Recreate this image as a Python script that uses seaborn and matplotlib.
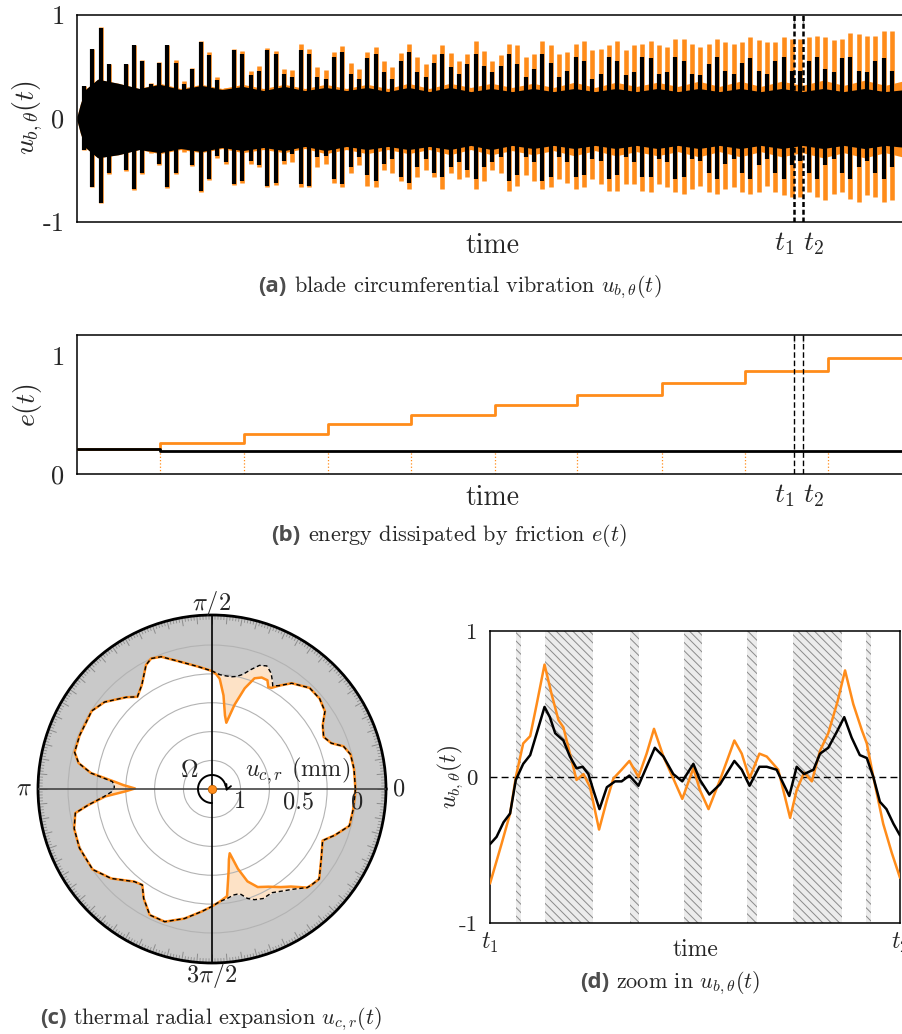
import numpy as np
import pandas as pd
import matplotlib
matplotlib.use("Agg")
import matplotlib.pyplot as plt
import seaborn as sns

# ------------------------------------------------------------------ data
# (a) blade circumferential vibration, envelope of every vibration burst
spike_start, spike_step = 0.0084, 0.01005
black_top = [0.31, 0.67, 0.87, 0.53, 0.31, 0.53, 0.71, 0.56, 0.33, 0.54,
             0.71, 0.54, 0.33, 0.48, 0.74, 0.61, 0.37, 0.25, 0.66, 0.62,
             0.42, 0.46, 0.66, 0.62, 0.43, 0.40, 0.66, 0.62, 0.40, 0.38,
             0.59, 0.64, 0.43, 0.38, 0.58, 0.62, 0.45, 0.38, 0.56, 0.64,
             0.45, 0.40, 0.54, 0.62, 0.50, 0.43, 0.53, 0.62, 0.51, 0.45,
             0.51, 0.62, 0.53, 0.40, 0.48, 0.62, 0.54, 0.40, 0.46, 0.59,
             0.56, 0.38, 0.43, 0.59, 0.56, 0.42, 0.45, 0.59, 0.58, 0.43,
             0.45, 0.59, 0.56, 0.43, 0.42, 0.53, 0.59, 0.46, 0.43, 0.54,
             0.58, 0.46, 0.43, 0.56, 0.59, 0.46, 0.46, 0.56, 0.59, 0.48,
             0.45, 0.58, 0.59, 0.46, 0.45, 0.56, 0.58, 0.46]
orange_top = [0.31, 0.67, 0.88, 0.53, 0.31, 0.53, 0.71, 0.57, 0.34, 0.55,
              0.71, 0.57, 0.36, 0.49, 0.75, 0.64, 0.40, 0.29, 0.67, 0.65,
              0.46, 0.51, 0.68, 0.65, 0.48, 0.47, 0.72, 0.67, 0.50, 0.47,
              0.64, 0.70, 0.54, 0.48, 0.64, 0.69, 0.56, 0.50, 0.63, 0.72,
              0.59, 0.53, 0.62, 0.71, 0.63, 0.56, 0.62, 0.75, 0.65, 0.56,
              0.61, 0.72, 0.71, 0.59, 0.62, 0.75, 0.71, 0.62, 0.64, 0.72,
              0.75, 0.66, 0.67, 0.71, 0.75, 0.66, 0.71, 0.72, 0.75, 0.71,
              0.69, 0.77, 0.77, 0.72, 0.69, 0.72, 0.77, 0.74, 0.72, 0.74,
              0.79, 0.76, 0.74, 0.74, 0.79, 0.77, 0.77, 0.79, 0.80, 0.79,
              0.76, 0.77, 0.83, 0.82, 0.80, 0.80, 0.85, 0.85]
black_bottom = [-0.30, -0.66, -0.82, -0.53, -0.28, -0.50, -0.68, -0.53, -0.31, -0.44,
                -0.66, -0.53, -0.29, -0.45, -0.70, -0.58, -0.36, -0.42, -0.63, -0.60,
                -0.41, -0.45, -0.65, -0.62, -0.41, -0.34, -0.63, -0.65, -0.37, -0.36,
                -0.58, -0.63, -0.47, -0.37, -0.55, -0.60, -0.44, -0.39, -0.57, -0.62,
                -0.47, -0.39, -0.53, -0.57, -0.47, -0.42, -0.50, -0.58, -0.47, -0.42,
                -0.37, -0.60, -0.55, -0.37, -0.42, -0.60, -0.57, -0.37, -0.42, -0.57,
                -0.55, -0.39, -0.41, -0.58, -0.55, -0.37, -0.42, -0.57, -0.57, -0.39,
                -0.42, -0.58, -0.57, -0.39, -0.41, -0.53, -0.58, -0.44, -0.39, -0.53,
                -0.58, -0.45, -0.39, -0.53, -0.58, -0.45, -0.41, -0.53, -0.58, -0.45,
                -0.39, -0.53, -0.58, -0.47, -0.41, -0.53, -0.58, -0.47]
orange_bottom = [-0.30, -0.66, -0.82, -0.54, -0.28, -0.51, -0.69, -0.54, -0.33, -0.45,
                 -0.67, -0.54, -0.32, -0.46, -0.71, -0.59, -0.38, -0.44, -0.64, -0.62,
                 -0.44, -0.47, -0.66, -0.64, -0.44, -0.42, -0.66, -0.66, -0.47, -0.44,
                 -0.62, -0.66, -0.53, -0.45, -0.65, -0.66, -0.50, -0.53, -0.60, -0.68,
                 -0.57, -0.50, -0.57, -0.68, -0.53, -0.58, -0.57, -0.68, -0.60, -0.50,
                 -0.53, -0.70, -0.65, -0.55, -0.60, -0.68, -0.66, -0.58, -0.62, -0.68,
                 -0.66, -0.58, -0.63, -0.70, -0.70, -0.63, -0.63, -0.70, -0.71, -0.63,
                 -0.66, -0.71, -0.73, -0.68, -0.65, -0.71, -0.73, -0.68, -0.66, -0.71,
                 -0.73, -0.71, -0.65, -0.71, -0.74, -0.76, -0.76, -0.71, -0.76, -0.79,
                 -0.73, -0.71, -0.78, -0.81, -0.74, -0.76, -0.81, -0.79]
# dense core of the signal between bursts (beating envelope)
core_t = [0.0, 0.004, 0.01, 0.025, 0.05, 0.075, 0.1, 0.125, 0.15, 0.175, 0.2,
          0.225, 0.25, 0.275, 0.3, 0.325, 0.35, 0.375, 0.4, 0.425, 0.45, 0.475,
          0.5, 0.525, 0.55, 0.575, 0.6, 0.625, 0.65, 0.675, 0.7, 0.725, 0.75,
          0.775, 0.8, 0.825, 0.85, 0.875, 0.9, 0.925, 0.95, 0.975, 1.0]
core_black_hi = [0.02, 0.14, 0.28, 0.38, 0.34, 0.29, 0.33, 0.28, 0.32, 0.28, 0.31,
                 0.27, 0.31, 0.27, 0.30, 0.27, 0.30, 0.26, 0.30, 0.26, 0.30, 0.26,
                 0.29, 0.26, 0.29, 0.26, 0.29, 0.26, 0.29, 0.26, 0.29, 0.26, 0.29,
                 0.26, 0.29, 0.26, 0.29, 0.26, 0.29, 0.26, 0.29, 0.26, 0.28]
core_black_lo = [-0.02, -0.14, -0.28, -0.38, -0.35, -0.30, -0.33, -0.29, -0.32, -0.28, -0.31,
                 -0.28, -0.31, -0.27, -0.31, -0.27, -0.30, -0.27, -0.30, -0.27, -0.30, -0.26,
                 -0.30, -0.26, -0.29, -0.26, -0.29, -0.26, -0.29, -0.26, -0.29, -0.26, -0.29,
                 -0.26, -0.29, -0.26, -0.29, -0.26, -0.29, -0.26, -0.29, -0.26, -0.28]
core_orange_hi = [0.02, 0.14, 0.28, 0.38, 0.34, 0.29, 0.34, 0.29, 0.33, 0.29, 0.33,
                  0.29, 0.33, 0.29, 0.33, 0.29, 0.33, 0.29, 0.34, 0.29, 0.34, 0.30,
                  0.34, 0.30, 0.34, 0.30, 0.35, 0.30, 0.35, 0.31, 0.35, 0.31, 0.36,
                  0.31, 0.36, 0.31, 0.36, 0.32, 0.37, 0.32, 0.37, 0.32, 0.37]
core_orange_lo = [-0.02, -0.14, -0.28, -0.38, -0.35, -0.30, -0.34, -0.30, -0.33, -0.29, -0.33,
                  -0.30, -0.33, -0.29, -0.34, -0.30, -0.34, -0.30, -0.34, -0.30, -0.35, -0.30,
                  -0.35, -0.31, -0.35, -0.31, -0.36, -0.31, -0.36, -0.32, -0.36, -0.32, -0.37,
                  -0.32, -0.37, -0.32, -0.37, -0.33, -0.38, -0.33, -0.38, -0.33, -0.38]
t1, t2 = 0.865, 0.876

# (b) energy dissipated by friction (step values)
e_step_t = [0.0, 0.100, 0.202, 0.303, 0.403, 0.504, 0.603, 0.706, 0.806, 0.906]
e_orange = [0.21, 0.26, 0.34, 0.42, 0.50, 0.58, 0.67, 0.77, 0.87, 0.98]
e_black = [0.21, 0.19, 0.19, 0.19, 0.19, 0.19, 0.19, 0.19, 0.19, 0.19]

# (c) thermal radial expansion of the casing (angle in degrees, u in mm)
c_theta = [0, 8, 14, 18, 21, 25, 30, 34.5, 40, 46, 53, 57, 59.5, 61, 63, 66, 69, 72,
           75, 77.8, 80, 83, 86, 88, 90, 96.5, 105, 111, 115, 118, 124, 129, 133,
           141, 147, 158, 165, 169, 172.5, 175.7, 177.5, 179.6, 181.5, 184, 187.4,
           190, 196, 204, 214, 221.6, 230, 234, 238, 243.7, 250.4, 258, 265, 270,
           274, 278, 281.4, 283.5, 285.4, 288, 291, 295, 300, 305, 309, 314, 316,
           320, 327.6, 335, 339.4, 345, 351.5, 357.6, 360]
c_prev = [0.005, 0.005, 0.01, 0.05, 0.14, 0.18, 0.14, 0.06, 0.03, 0.03, 0.10, 0.18,
          0.21, 0.17, 0.12, 0.08, 0.10, 0.16, 0.22, 0.25, 0.26, 0.26, 0.255, 0.24,
          0.225, 0.18, 0.10, 0.02, 0.0, 0.03, 0.16, 0.22, 0.16, 0.05, 0.005, 0.01,
          0.015, 0.07, 0.19, 0.38, 0.40, 0.40, 0.38, 0.31, 0.165, 0.045, 0.005,
          -0.01, 0.0, 0.08, 0.20, 0.22, 0.13, 0.03, 0.027, 0.10, 0.18, 0.23, 0.27,
          0.29, 0.31, 0.31, 0.30, 0.25, 0.22, 0.20, 0.21, 0.17, 0.13, 0.06, 0.05,
          0.035, 0.126, 0.19, 0.11, 0.015, 0.012, 0.008, 0.005]
c_curr = [0.005, 0.005, 0.01, 0.05, 0.14, 0.18, 0.14, 0.06, 0.03, 0.03, 0.10, 0.18,
          0.23, 0.24, 0.19, 0.19, 0.22, 0.33, 0.49, 0.66, 0.60, 0.43, 0.29, 0.25,
          0.225, 0.18, 0.10, 0.02, 0.0, 0.03, 0.16, 0.22, 0.16, 0.05, 0.005, 0.01,
          0.015, 0.07, 0.19, 0.40, 0.48, 0.58, 0.50, 0.32, 0.165, 0.045, 0.005,
          -0.01, 0.0, 0.08, 0.20, 0.22, 0.13, 0.03, 0.027, 0.10, 0.18, 0.23, 0.27,
          0.31, 0.52, 0.62, 0.67, 0.52, 0.39, 0.31, 0.27, 0.21, 0.16, 0.06, 0.05,
          0.035, 0.126, 0.19, 0.11, 0.015, 0.012, 0.008, 0.005]
c_rings = [0, 0.25, 0.5, 0.75, 1]

# (d) zoom between t1 and t2 (time normalised to [0, 1])
d_t_orange = [0.000, 0.028, 0.049, 0.063, 0.081, 0.098, 0.114, 0.133, 0.150, 0.167,
              0.179, 0.195, 0.211, 0.228, 0.244, 0.266, 0.285, 0.301, 0.321, 0.340,
              0.362, 0.382, 0.400, 0.423, 0.447, 0.469, 0.496, 0.512, 0.533, 0.561,
              0.596, 0.614, 0.633, 0.657, 0.675, 0.703, 0.732, 0.748, 0.766, 0.785,
              0.805, 0.825, 0.847, 0.866, 0.886, 0.907, 0.919, 0.935, 0.959, 0.980, 1.0]
d_u_orange = [-0.73, -0.46, -0.25, 0.0, 0.23, 0.28, 0.50, 0.77, 0.57, 0.39,
              0.34, 0.16, -0.02, 0.02, -0.07, -0.36, -0.16, -0.01, 0.05, 0.11,
              0.0, 0.16, 0.33, 0.14, -0.01, -0.15, 0.06, -0.09, -0.22, -0.02,
              0.25, 0.16, -0.01, 0.16, 0.14, 0.05, -0.28, -0.09, 0.03, -0.03,
              0.18, 0.30, 0.51, 0.73, 0.50, 0.32, 0.23, 0.0, -0.32, -0.52, -0.69]
d_t_black = [0.000, 0.016, 0.033, 0.049, 0.063, 0.081, 0.098, 0.114, 0.133, 0.146,
             0.159, 0.179, 0.195, 0.211, 0.226, 0.240, 0.252, 0.267, 0.285, 0.305,
             0.321, 0.340, 0.362, 0.382, 0.402, 0.423, 0.447, 0.469, 0.496, 0.512,
             0.535, 0.561, 0.596, 0.614, 0.633, 0.657, 0.675, 0.699, 0.730, 0.748,
             0.766, 0.789, 0.805, 0.825, 0.846, 0.864, 0.882, 0.902, 0.919, 0.935,
             0.951, 0.967, 0.984, 1.0]
d_u_black = [-0.46, -0.41, -0.31, -0.25, -0.02, 0.09, 0.15, 0.30, 0.48, 0.41,
             0.30, 0.25, 0.14, 0.06, 0.07, 0.02, -0.09, -0.22, -0.07, -0.03,
             -0.03, 0.01, -0.06, 0.07, 0.20, 0.14, 0.02, -0.03, 0.09, -0.02,
             -0.12, -0.05, 0.11, 0.05, -0.06, 0.07, 0.07, 0.05, -0.13, 0.07,
             0.02, 0.05, 0.16, 0.20, 0.31, 0.41, 0.27, 0.15, 0.13, 0.0,
             -0.17, -0.22, -0.32, -0.40]
d_band_start = [0.063, 0.134, 0.341, 0.473, 0.628, 0.740, 0.917]
d_band_end = [0.075, 0.252, 0.363, 0.518, 0.650, 0.858, 0.929]

# ------------------------------------------------------------------ style
sns.set_style("white")
plt.rcParams.update({
    "font.family": ["cmr10", "DejaVu Serif"],
    "mathtext.fontset": "cm",
    "axes.unicode_minus": False,
    "axes.formatter.use_mathtext": True,
    "hatch.linewidth": 0.7,
})
ORANGE = "#FF8C1A"
LIGHT_OR = "#FDE2C6"
GRAY_FILL = "#C9C9C9"
TICK_GRAY = "#8A8A8A"

W, H = 902, 1034
fig = plt.figure(figsize=(W / 100, H / 100), dpi=100)


def box(l, t, r, b):
    return [l / W, 1 - b / H, (r - l) / W, (b - t) / H]


def ftext(x, y, s, **kw):
    return fig.text(x / W, 1 - y / H, s, **kw)


def frame(ax, fs):
    for s in ax.spines.values():
        s.set_color("black")
        s.set_linewidth(1.1)
    ax.tick_params(axis="both", which="both", direction="in", color=TICK_GRAY,
                   width=1.0, labelsize=fs)


# ------------------------------------------------------------------ (a)
axA = fig.add_axes(box(77, 15, 906, 222))
spike_t = spike_start + spike_step * np.arange(len(black_top))
axA.fill_between(core_t, core_orange_lo, core_orange_hi, color=ORANGE, lw=0, zorder=1)
axA.vlines(spike_t, orange_bottom, orange_top, color=ORANGE, lw=3.3, zorder=2)
axA.fill_between(core_t, core_black_lo, core_black_hi, color="black", lw=0, zorder=3)
axA.vlines(spike_t, black_bottom, black_top, color="black", lw=3.0, zorder=4)
for tt in (t1, t2):
    axA.axvline(tt, color="black", lw=1.8, ls=(0, (2, 1.1)), zorder=5)
axA.set_xlim(0, 1)
axA.set_ylim(-1, 1)
frame(axA, 19)
axA.set_yticks([-1, 0, 1])
axA.set_yticklabels(["-1", "0", "1"])
axA.set_yticks([-0.5, 0.5], minor=True)
axA.tick_params(axis="y", which="both", length=9, pad=9)
axA.set_xticks([t1, t2])
axA.set_xticklabels([])
axA.tick_params(axis="x", top=True, length=6)
ftext(28, 118, r"$u_{b,\theta}(t)$", fontsize=20, rotation=90, ha="center", va="center")
ftext(492, 246, "time", fontsize=20, ha="center", va="center")
ftext(794, 244, r"$t_1$", fontsize=20, ha="right", va="center")
ftext(803, 244, r"$t_2$", fontsize=20, ha="left", va="center")

# ------------------------------------------------------------------ (b)
axB = fig.add_axes(box(77, 335, 906, 474))
dfb = pd.DataFrame({"t": e_step_t + [1.0],
                    "orange": e_orange + [e_orange[-1]],
                    "black": e_black + [e_black[-1]]})
axB.vlines(e_step_t[1:], 0, e_black[1:], color=ORANGE, lw=0.9, ls=":", zorder=1)
sns.lineplot(data=dfb, x="t", y="orange", ax=axB, color=ORANGE, lw=2.0,
             drawstyle="steps-post", estimator=None, zorder=3)
sns.lineplot(data=dfb, x="t", y="black", ax=axB, color="black", lw=2.0,
             drawstyle="steps-post", estimator=None, zorder=4)
for tt in (t1, t2):
    axB.axvline(tt, color="black", lw=1.0, ls=(0, (4, 2)), zorder=5)
axB.set_xlim(0, 1)
axB.set_ylim(0, 1.172)
frame(axB, 19)
axB.set_yticks([0, 1])
axB.set_yticklabels(["0", "1"])
axB.tick_params(axis="y", length=9, pad=9)
axB.set_xticks([t1, t2])
axB.set_xticklabels([])
axB.tick_params(axis="x", top=True, length=5)
axB.set_xlabel("")
axB.set_ylabel("")
ftext(28, 405, r"$e(t)$", fontsize=20, rotation=90, ha="center", va="center")
ftext(492, 498, "time", fontsize=20, ha="center", va="center")
ftext(794, 496, r"$t_1$", fontsize=20, ha="right", va="center")
ftext(803, 496, r"$t_2$", fontsize=20, ha="left", va="center")

# ------------------------------------------------------------------ (c)
R_IN, R_OUT = 1.247, -0.26
axC = fig.add_axes(box(38, 615, 386, 963), projection="polar")
axC.set_theta_zero_location("E")
axC.set_ylim(R_IN, R_OUT)
th = np.radians(c_theta)
axC.fill_between(th, c_prev, R_OUT, color=GRAY_FILL, lw=0, zorder=1)
axC.fill_between(th, c_prev, c_curr, color=LIGHT_OR, lw=0, zorder=1.2)
axC.plot(th, c_curr, color=ORANGE, lw=1.8, zorder=3, solid_joinstyle="round")
axC.plot(th, c_prev, color="black", lw=1.0, ls=(0, (3, 2)), zorder=4)
ring = np.arange(0, 360, 1)
axC.vlines(np.radians(ring[ring % 5 != 0]), R_OUT, R_OUT + 0.04, color="#8c8c8c", lw=0.6, zorder=2)
axC.vlines(np.radians(ring[ring % 5 == 0]), R_OUT, R_OUT + 0.075, color="#8c8c8c", lw=0.7, zorder=2)
for ang, col in ((0, "#444444"), (np.pi, "#444444"), (np.pi / 2, "black"), (1.5 * np.pi, "black")):
    axC.plot([ang, ang], [R_IN, R_OUT], color=col, lw=1.2, zorder=5)
axC.plot([0], [R_IN], "o", color=ORANGE, ms=6, mec="#c06000", mew=0.6, zorder=7)
axC.set_xticks([])
axC.set_yticks(c_rings)
axC.set_yticklabels([])
axC.yaxis.grid(True, color="#b3b3b3", lw=0.8)
axC.set_axisbelow(False)
axC.spines["polar"].set_linewidth(2.0)
axC.spines["polar"].set_color("black")

ftext(212, 603, r"$\pi/2$", fontsize=17.5, ha="center", va="center")
ftext(24, 788, r"$\pi$", fontsize=17.5, ha="center", va="center")
ftext(399, 789, "0", fontsize=17.5, ha="center", va="center")
ftext(212, 975, r"$3\pi/2$", fontsize=17.5, ha="center", va="center")
ftext(189, 771, r"$\Omega$", fontsize=17.5, ha="center", va="center")
ftext(298, 771, r"$u_{c,r}$ (mm)", fontsize=17.5, ha="center", va="center")
for lab, xx in (("1", 240), ("0.5", 298), ("0", 357)):
    ftext(xx, 802, lab, fontsize=17.5, ha="center", va="center")

# rotation arrow (decoration around the centre)
ov = fig.add_axes([0, 0, 1, 1], zorder=20)
ov.set_xlim(0, W)
ov.set_ylim(H, 0)
ov.axis("off")
ov.patch.set_alpha(0)
a = np.radians(np.linspace(270, 14, 60))
ov.plot(212 + 14 * np.cos(a), 789 - 14 * np.sin(a), color="black", lw=1.4)
a0, a1 = np.radians(14), np.radians(-10)
ov.annotate("", xy=(212 + 14 * np.cos(a1), 789 - 14 * np.sin(a1)),
            xytext=(212 + 14 * np.cos(a0), 789 - 14 * np.sin(a0)),
            arrowprops=dict(arrowstyle="->", color="black", lw=1.3, mutation_scale=9,
                            shrinkA=0, shrinkB=0, connectionstyle="arc3,rad=-0.25"))

# ------------------------------------------------------------------ (d)
axD = fig.add_axes(box(490, 631, 900, 923))
for s0, s1 in zip(d_band_start, d_band_end):
    axD.axvspan(s0, s1, facecolor="#ececec", edgecolor="#8a8a8a", hatch="\\\\\\\\",
                lw=0, zorder=0.5)
axD.axhline(0, color="black", lw=1.0, ls=(0, (5, 3)), zorder=1)
dfo = pd.DataFrame({"t": d_t_orange, "u": d_u_orange})
dfk = pd.DataFrame({"t": d_t_black, "u": d_u_black})
sns.lineplot(data=dfo, x="t", y="u", ax=axD, color=ORANGE, lw=1.8, estimator=None, sort=False,
             zorder=3, solid_joinstyle="round")
sns.lineplot(data=dfk, x="t", y="u", ax=axD, color="black", lw=1.8, estimator=None, sort=False,
             zorder=4, solid_joinstyle="round")
axD.set_xlim(0, 1)
axD.set_ylim(-1, 1)
frame(axD, 16.5)
axD.set_yticks([-1, 0, 1])
axD.set_yticklabels(["-1", "0", "1"])
axD.set_yticks([-0.5, 0.5], minor=True)
axD.tick_params(axis="y", which="both", length=8, pad=9)
axD.set_xticks([0, 1])
axD.set_xticklabels([r"$t_1$", r"$t_2$"])
axD.tick_params(axis="x", length=0, pad=6, labelsize=17)
axD.set_xlabel("")
axD.set_ylabel("")
ftext(450, 777, r"$u_{b,\theta}(t)$", fontsize=17, rotation=90, ha="center", va="center")
ftext(695, 950, "time", fontsize=17, ha="center", va="center")

# ------------------------------------------------------------------ captions
renderer = fig.canvas.get_renderer()


def caption(cx, base_y, lab, rest, gap=7):
    ta = ftext(0, base_y, lab, family="Open Sans", weight="bold", color="#4d4d4d",
               fontsize=16, va="baseline", ha="left")
    tb = ftext(0, base_y, rest, fontsize=16, va="baseline", ha="left")
    wa = ta.get_window_extent(renderer).width
    wb = tb.get_window_extent(renderer).width
    x0 = cx - (wa + gap + wb) / 2
    ta.set_x(x0 / W)
    tb.set_x((x0 + wa + gap) / W)


caption(460, 292, "(a)", r"blade circumferential vibration $u_{b,\theta}(t)$")
caption(449, 541, "(b)", r"energy dissipated by friction $e(t)$")
caption(211, 1024, "(c)", r"thermal radial expansion $u_{c,r}(t)$")
caption(670, 988, "(d)", r"zoom in $u_{b,\theta}(t)$")

fig.savefig("out.png", dpi=100)
